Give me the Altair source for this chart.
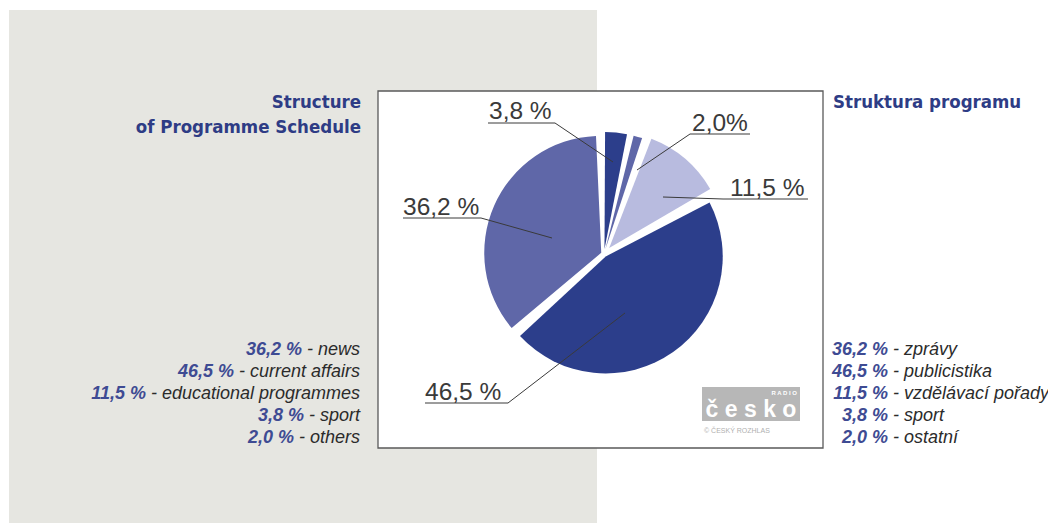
import math
import altair as alt
import pandas as pd

# ---------------- data ----------------
CATS_EN = ["news", "current affairs", "educational programmes", "sport", "others"]
CATS_CZ = ["zprávy", "publicistika", "vzdělávací pořady", "sport", "ostatní"]
SHARES = [36.2, 46.5, 11.5, 3.8, 2.0]
SHARE_TEXT = ["36,2 %", "46,5 %", "11,5 %", "3,8 %", "2,0 %"]
PIE_TEXT = ["36,2 %", "46,5 %", "11,5 %", "3,8 %", "2,0%"]
CLOCKWISE_ORDER = [4, 3, 2, 0, 1]   # sport, others, educational, current affairs, news

TITLE_EN = ["Structure", "of Programme Schedule"]
TITLE_CZ = "Struktura programu"

# ---------------- styles / layout ----------------
SLICE_COLORS = ["#5f67a8", "#2c3e8b", "#b8bbdf", "#2c3e8b", "#5f67a8"]
EXPLODE = [3, 3, 8, 5, 5]
OFF = 8
W, H = 1040, 515
CX, CY, R = 604 - OFF, 254 - OFF, 117
A0 = 2 * math.pi - 0.02
TITLE_COLOR = "#2e3c85"
NUM_COLOR = "#3e4b93"
DESC_COLOR = "#2b2b2b"
TITLE_FONT = "DejaVu Sans Condensed, Liberation Sans Narrow, DejaVu Sans"
BODY_FONT = "Liberation Sans, Arial, sans-serif"
LEG_SIZE = 18

# pie label layout (page px): text x, text baseline, underline x1, x2, y, leader end x, y
LBL_TX = [403, 425, 730, 489, 692]
LBL_TY = [215, 400, 196, 119, 131]
UND_X1 = [403, 425, 723, 488, 690]
UND_X2 = [481, 508, 808, 555, 750]
UND_Y = [218, 403, 199, 123, 134]
LEAD_FROM_RIGHT = [True, True, False, True, False]
LEAD_X = [552, 625, 663, 613, 637]
LEAD_Y = [238, 313, 197, 162, 170]

LEG_BASE = [355, 377, 399, 421, 443]
LEG_L_RIGHT = 360
LEG_R_SPLIT = 888

# Arial / Liberation Sans advance widths (per 1000 em) for right-aligned two-style lines
ADV = {" ": 278, "-": 333, "a": 556, "b": 556, "c": 500, "d": 556, "e": 556, "f": 278,
       "g": 556, "h": 556, "i": 222, "k": 500, "l": 222, "m": 833, "n": 556, "o": 556,
       "p": 556, "r": 333, "s": 500, "t": 278, "u": 556, "v": 500, "w": 722, "y": 500,
       "z": 500}


def text_w(s, size):
    return sum(ADV.get(ch, 556) for ch in s) * size / 1000.0


dummy = pd.DataFrame({"d": [0]})


def px(v):
    return v - OFF


# ---------------- background panels ----------------
gray = alt.Chart(dummy).mark_rect(color="#e6e6e1").encode(
    x=alt.value(px(9)), x2=alt.value(px(597)), y=alt.value(px(10)), y2=alt.value(H)
)
frame = alt.Chart(dummy).mark_rect(fill="white", stroke="#5a5a5a", strokeWidth=1.3).encode(
    x=alt.value(px(378)), x2=alt.value(px(823)), y=alt.value(px(91)), y2=alt.value(px(448))
)

# ---------------- pie ----------------
pie_df = pd.DataFrame({
    "cat": CATS_EN,
    "share": SHARES,
    "order": CLOCKWISE_ORDER,
    "explode": EXPLODE,
})

pie = alt.Chart(pie_df).transform_joinaggregate(
    total="sum(share)"
).transform_window(
    cum="sum(share)", sort=[alt.SortField("order")], frame=[None, 0]
).transform_calculate(
    start="datum.cum - datum.share",
    mid=f"{A0} + 2*PI*(datum.cum - datum.share/2)/datum.total",
).transform_calculate(
    cx=f"{CX} + datum.explode*sin(datum.mid)",
    cy=f"{CY} - datum.explode*cos(datum.mid)",
).mark_arc(outerRadius=R, padAngle=0.05).encode(
    theta=alt.Theta("start:Q", scale=alt.Scale(domain=[0, 100], range=[A0, A0 + 2 * math.pi])),
    theta2=alt.Theta2("cum:Q"),
    x=alt.X("cx:Q", scale=None, axis=None),
    y=alt.Y("cy:Q", scale=None, axis=None),
    color=alt.Color("cat:N", scale=alt.Scale(domain=CATS_EN, range=SLICE_COLORS), legend=None),
)

# ---------------- pie labels + leader lines ----------------
rows = []
for i in range(len(CATS_EN)):
    rows.append({"x1": px(UND_X1[i]), "y1": px(UND_Y[i]), "x2": px(UND_X2[i]), "y2": px(UND_Y[i])})
    sx = UND_X2[i] if LEAD_FROM_RIGHT[i] else UND_X1[i]
    rows.append({"x1": px(sx), "y1": px(UND_Y[i]), "x2": px(LEAD_X[i]), "y2": px(LEAD_Y[i])})
rule_df = pd.DataFrame(rows)

leaders = alt.Chart(rule_df).mark_rule(color="#3a3a3a", strokeWidth=1).encode(
    x=alt.X("x1:Q", scale=None, axis=None),
    y=alt.Y("y1:Q", scale=None, axis=None),
    x2="x2:Q",
    y2="y2:Q",
)

lbl_df = pd.DataFrame({
    "t": PIE_TEXT,
    "x": [px(v) for v in LBL_TX],
    "y": [px(v) for v in LBL_TY],
})
pie_labels = alt.Chart(lbl_df).mark_text(
    align="left", baseline="alphabetic", fontSize=24.5, font=BODY_FONT, color="#3a3a3a"
).encode(
    x=alt.X("x:Q", scale=None, axis=None),
    y=alt.Y("y:Q", scale=None, axis=None),
    text="t:N",
)

# ---------------- logo ----------------
logo_box = alt.Chart(dummy).mark_rect(color="#b7b7b7").encode(
    x=alt.value(px(702)), x2=alt.value(px(800)), y=alt.value(px(387)), y2=alt.value(px(421))
)
logo_top = alt.Chart(dummy).mark_text(
    text="R A D I O", align="right", baseline="alphabetic", fontSize=6, font=BODY_FONT,
    color="white", fontWeight="bold"
).encode(x=alt.value(px(797)), y=alt.value(px(395)))
logo_main = alt.Chart(dummy).mark_text(
    text="č e s k o", align="center", baseline="alphabetic", fontSize=23, font=BODY_FONT,
    color="white", fontWeight="bold"
).encode(x=alt.value(px(751)), y=alt.value(px(417)))
logo_sub = alt.Chart(dummy).mark_text(
    text="© ČESKÝ ROZHLAS", align="left", baseline="alphabetic", fontSize=7, font=BODY_FONT,
    color="#b0b0b0"
).encode(x=alt.value(px(704)), y=alt.value(px(433)))

# ---------------- titles ----------------
t1 = alt.Chart(dummy).mark_text(
    text=TITLE_EN[0], align="right", baseline="alphabetic", fontSize=18.5, font=TITLE_FONT,
    fontWeight="bold", color=TITLE_COLOR
).encode(x=alt.value(px(361)), y=alt.value(px(108)))
t2 = alt.Chart(dummy).mark_text(
    text=TITLE_EN[1], align="right", baseline="alphabetic", fontSize=18.5, font=TITLE_FONT,
    fontWeight="bold", color=TITLE_COLOR
).encode(x=alt.value(px(361)), y=alt.value(px(133)))
t3 = alt.Chart(dummy).mark_text(
    text=TITLE_CZ, align="left", baseline="alphabetic", fontSize=18.5, font=TITLE_FONT,
    fontWeight="bold", color=TITLE_COLOR
).encode(x=alt.value(px(833)), y=alt.value(px(108)))

# ---------------- legends ----------------
en_desc = ["- " + c for c in CATS_EN]
cz_desc = ["- " + c for c in CATS_CZ]
leg_df = pd.DataFrame({
    "num": SHARE_TEXT,
    "en": en_desc,
    "cz": cz_desc,
    "y": [px(v) for v in LEG_BASE],
    "lnum": [px(LEG_L_RIGHT - text_w(d, LEG_SIZE) - 5) for d in en_desc],
    "ldesc": [px(LEG_L_RIGHT)] * 5,
    "rsplit": [px(LEG_R_SPLIT)] * 5,
    "rdesc": [px(LEG_R_SPLIT + 5)] * 5,
})


def legend_text(xfield, tfield, align, bold):
    return alt.Chart(leg_df).mark_text(
        align=align, baseline="alphabetic", fontSize=LEG_SIZE, font=BODY_FONT, fontStyle="italic",
        fontWeight="bold" if bold else "normal", color=NUM_COLOR if bold else DESC_COLOR
    ).encode(
        x=alt.X(f"{xfield}:Q", scale=None, axis=None),
        y=alt.Y("y:Q", scale=None, axis=None),
        text=f"{tfield}:N",
    )


leg_l_num = legend_text("lnum", "num", "right", True)
leg_l_desc = legend_text("ldesc", "en", "right", False)
leg_r_num = legend_text("rsplit", "num", "right", True)
leg_r_desc = legend_text("rdesc", "cz", "left", False)

chart = alt.layer(
    gray, frame, pie, leaders, pie_labels,
    logo_box, logo_top, logo_main, logo_sub,
    t1, t2, t3,
    leg_l_num, leg_l_desc, leg_r_num, leg_r_desc,
).properties(
    width=W, height=H, padding=0, autosize=alt.AutoSizeParams(type="none"), background="white"
).configure_view(stroke=None)

chart.save("out.html", embed_options={"renderer": "svg", "actions": False})
